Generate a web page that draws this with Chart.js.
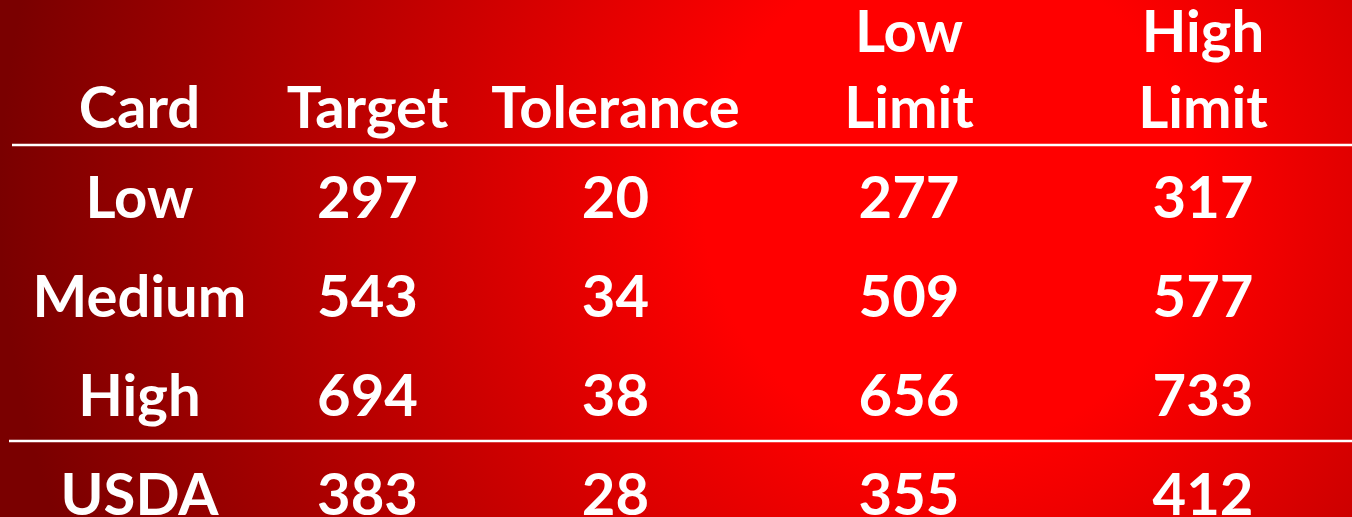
<!DOCTYPE html>
<html>
<head>
<meta charset="utf-8">
<script src="https://cdn.jsdelivr.net/npm/chart.js@4"></script>
<style>
  html, body { margin: 0; padding: 0; background: #8a0000; }
  #wrap { width: 1352px; height: 517px; position: relative; }
</style>
</head>
<body>
<div id="wrap"><canvas id="myChart"></canvas></div>
<script>
// table content
const headerTop = ['', '', '', 'Low', 'High'];
const headerBottom = ['Card', 'Target', 'Tolerance', 'Limit', 'Limit'];
const cards = ['Low', 'Medium', 'High', 'USDA'];
const target = [297, 543, 694, 383];
const tolerance = [20, 34, 38, 28];
const lowLimit = [277, 509, 656, 355];
const highLimit = [317, 577, 733, 412];

// layout (column centres / row baselines in scale units)
const colX = [139.5, 367.5, 615.5, 909, 1203];
const headerTopRow = -1.677;
const headerBottomRow = -0.909;
const dataRows = [0, 1, 2, 3];
const rules = [{ y: -0.737, from: 12 }, { y: 2.253, from: 9 }];

const FONT = 'bold 58px Lato, "Open Sans", sans-serif';

function buildTextDatasets() {
  const columnsData = [cards, target, tolerance, lowLimit, highLimit];
  return colX.map((x, c) => {
    const texts = [headerTop[c], headerBottom[c]].concat(columnsData[c].map(String));
    const ys = [headerTopRow, headerBottomRow].concat(dataRows);
    return {
      type: 'scatter',
      texts: texts,
      data: ys.map(y => ({ x: x, y: y })),
      pointRadius: 0,
      pointHoverRadius: 0
    };
  });
}

function buildRuleDatasets() {
  return rules.map(r => ({
    type: 'line',
    data: [{ x: r.from, y: r.y }, { x: 1352, y: r.y }],
    borderColor: '#ffffff',
    borderWidth: 2.5,
    pointRadius: 0,
    fill: false
  }));
}

const backgroundPlugin = {
  id: 'bg',
  beforeDraw(chart) {
    const ctx = chart.ctx;
    const w = chart.width, h = chart.height;
    const g = ctx.createRadialGradient(950, 200, 0, 950, 200, 950);
    g.addColorStop(0, '#ff0000');
    g.addColorStop(0.26, '#ff0000');
    g.addColorStop(1, '#7a0000');
    ctx.save();
    ctx.fillStyle = g;
    ctx.fillRect(0, 0, w, h);
    ctx.restore();
  }
};

const cellTextPlugin = {
  id: 'cellText',
  afterDatasetsDraw(chart) {
    const ctx = chart.ctx;
    ctx.save();
    ctx.font = FONT;
    ctx.fillStyle = '#ffffff';
    ctx.textAlign = 'center';
    ctx.textBaseline = 'alphabetic';
    chart.data.datasets.forEach((ds, i) => {
      if (!ds.texts) return;
      const meta = chart.getDatasetMeta(i);
      meta.data.forEach((pt, j) => {
        const t = ds.texts[j];
        if (t) ctx.fillText(t, pt.x, pt.y);
      });
    });
    ctx.restore();
  }
};

function createTable() {
  const ctx = document.getElementById('myChart').getContext('2d');
  new Chart(ctx, {
    type: 'scatter',
    data: { datasets: buildTextDatasets().concat(buildRuleDatasets()) },
    options: {
      responsive: true,
      maintainAspectRatio: false,
      animation: false,
      layout: { padding: 0 },
      plugins: { legend: { display: false }, tooltip: { enabled: false } },
      events: [],
      scales: {
        x: { type: 'linear', min: 0, max: 1352, display: false },
        y: { type: 'linear', min: -2.202, max: 3.020, reverse: true, display: false }
      }
    },
    plugins: [backgroundPlugin, cellTextPlugin]
  });
}

document.fonts.load(FONT).then(createTable, createTable);
</script>
</body>
</html>
